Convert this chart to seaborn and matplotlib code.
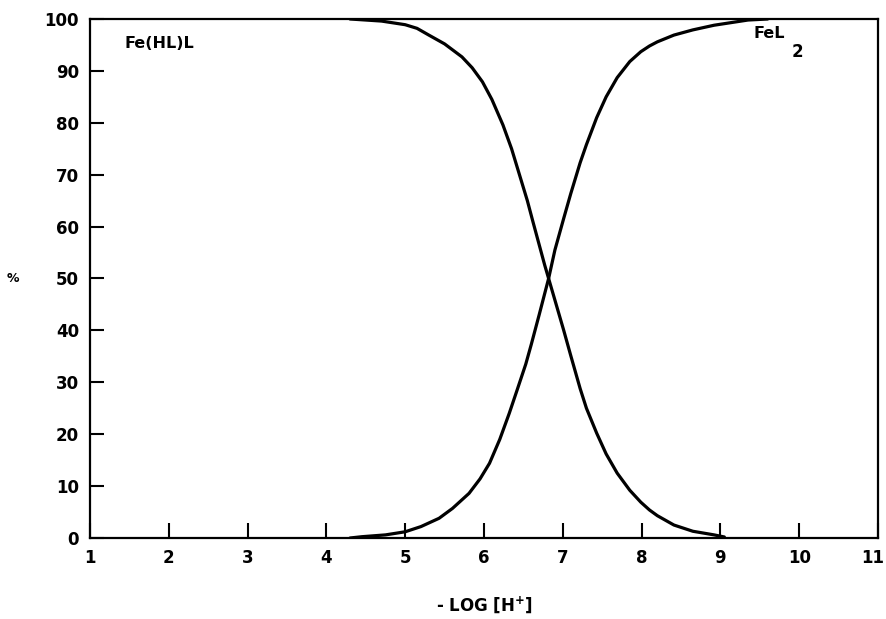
import matplotlib
matplotlib.use("Agg")
import matplotlib.pyplot as plt
import matplotlib.transforms as mtransforms
import seaborn as sns
import pandas as pd

# Values
x_fehll = [4.3, 4.7, 5.0, 5.15, 5.3, 5.5, 5.72, 5.85, 5.98, 6.1, 6.24, 6.35, 6.45, 6.55,
           6.62, 6.77, 6.82, 7.01, 7.1, 7.22, 7.3, 7.43, 7.55, 7.69, 7.85, 7.99, 8.1,
           8.2, 8.41, 8.65, 8.92, 9.05]
y_fehll = [100, 99.6, 98.9, 98.2, 96.9, 95.2, 92.7, 90.6, 87.9, 84.5, 79.6, 75.0, 70.0, 65.0,
           61.0, 52.6, 50, 40.1, 35.2, 28.8, 25.0, 20.2, 16.2, 12.5, 9.2, 6.9, 5.4,
           4.3, 2.5, 1.3, 0.6, 0.2]

x_fel2 = [4.3, 4.45, 4.75, 5.0, 5.2, 5.43, 5.6, 5.81, 5.95, 6.07, 6.2, 6.32, 6.42, 6.53,
          6.6, 6.70, 6.82, 6.9, 7.01, 7.1, 7.22, 7.3, 7.43, 7.55, 7.69, 7.85, 7.99,
          8.1, 8.2, 8.41, 8.65, 8.92, 9.35, 9.6]
y_fel2 = [0, 0.25, 0.6, 1.2, 2.2, 3.8, 5.7, 8.6, 11.4, 14.4, 19.0, 24.0, 28.5, 33.5,
          37.3, 43.0, 50, 55.5, 61.5, 66.3, 72.3, 75.8, 81.0, 85.0, 88.7, 91.8, 93.7,
          94.8, 95.6, 96.9, 97.9, 98.8, 99.8, 100]

x_ticks = [1, 2, 3, 4, 5, 6, 7, 8, 9, 10, 11]
y_ticks = [0, 10, 20, 30, 40, 50, 60, 70, 80, 90, 100]

df = pd.concat([
    pd.DataFrame({"x": x_fehll, "y": y_fehll, "s": "Fe(HL)L"}),
    pd.DataFrame({"x": x_fel2, "y": y_fel2, "s": "FeL2"}),
])

sns.set_style("ticks")
plt.rcParams["font.family"] = ["DejaVu Sans"]
plt.rcParams["font.weight"] = "bold"
plt.rcParams["text.color"] = "black"

fig = plt.figure(figsize=(8.87, 6.19), dpi=100)
ax = fig.add_axes([90 / 887, 81 / 619, 788 / 887, 519 / 619])

sns.lineplot(data=df, x="x", y="y", hue="s", palette=["black", "black"],
             linewidth=2.3, legend=False, ax=ax, sort=False, estimator=None)

ax.set_xlim(1, 11)
ax.set_ylim(0, 100)
ax.set_xticks(x_ticks)
ax.set_yticks(y_ticks)
ax.set_xticklabels([str(t) for t in x_ticks], fontsize=12, fontweight="bold")
ax.set_yticklabels([str(t) for t in y_ticks], fontsize=12, fontweight="bold")
ax.tick_params(axis="x", direction="in", length=11, width=1.5, pad=8, colors="black")
ax.tick_params(axis="y", direction="in", length=10, width=1.5, pad=8, colors="black")
last = ax.get_xticklabels()[-1]
last.set_transform(last.get_transform() +
                   mtransforms.ScaledTranslation(-5 / 100, 0, fig.dpi_scale_trans))

for sp in ax.spines.values():
    sp.set_linewidth(1.6)
    sp.set_color("black")

ax.set_xlabel("- LOG [H$^{+}$]", fontsize=12, fontweight="bold", color="black")
ax.xaxis.set_label_coords(0.5, -(605 - 538) / 519)
ax.xaxis.label.set_va("center")
ax.set_ylabel("%", fontsize=9, fontweight="bold", rotation=0, color="black")
ax.yaxis.set_label_coords(-(90 - 13) / 788, 0.5)
ax.yaxis.label.set_va("center")
ax.yaxis.label.set_ha("center")

ax.text(1.44, 95.2, "Fe(HL)L", fontsize=11.5, fontweight="bold", va="center", ha="left",
        color="black")
ax.text(9.42, 97.3, "FeL", fontsize=11.5, fontweight="bold", va="center", ha="left",
        color="black")
ax.text(9.9, 93.6, "2", fontsize=12, fontweight="bold", va="center", ha="left",
        color="black")

fig.savefig("out.png", dpi=100)
